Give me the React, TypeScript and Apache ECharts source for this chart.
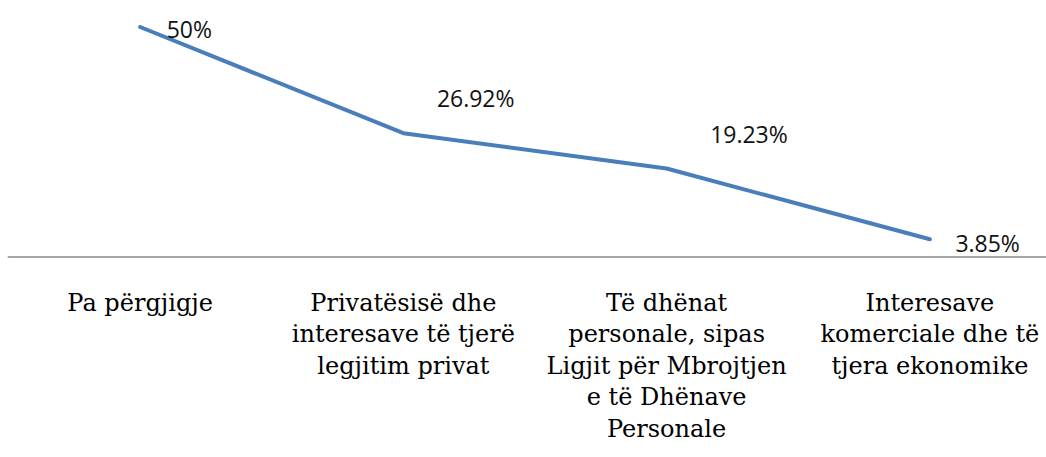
import React, { useEffect, useRef } from "react";
import * as echarts from "echarts";

const categories = [
  "Pa përgjigje",
  "Privatësisë dhe\ninteresave të tjerë\nlegjitim privat",
  "Të dhënat\npersonale, sipas\nLigjit për Mbrojtjen\ne të Dhënave\nPersonale",
  "Interesave\nkomerciale dhe të\ntjera ekonomike",
];
const values = [50, 26.92, 19.23, 3.85];
const labelTexts = ["50%", "26.92%", "19.23%", "3.85%"];

// label placement relative to each point (style only)
const labelOffsets: [number, number][] = [
  [27, 2],
  [34, -35],
  [44, -34],
  [26, 4],
];

export default function App() {
  const ref = useRef<HTMLDivElement>(null);
  useEffect(() => {
    if (!ref.current) return;
    const chart = echarts.init(ref.current, undefined, { renderer: "svg" });
    chart.setOption({
      animation: false,
      backgroundColor: "#ffffff",
      grid: {
        left: 8.5,
        top: 27,
        width: 1053,
        height: 230,
        containLabel: false,
        outerBoundsMode: "none",
      },
      xAxis: {
        type: "category",
        data: categories,
        boundaryGap: true,
        axisLine: { show: true, lineStyle: { color: "#a6a6a6", width: 2 } },
        axisTick: { show: false },
        axisLabel: {
          interval: 0,
          margin: 30,
          fontFamily: "DejaVu Serif",
          fontSize: 24,
          lineHeight: 31.5,
          color: "#000000",
          align: "center",
        },
        splitLine: { show: false },
      },
      yAxis: {
        type: "value",
        min: 0,
        max: 50,
        show: false,
        splitLine: { show: false },
      },
      series: [
        {
          type: "line",
          data: values.map((v, i) => ({
            value: v,
            label: {
              show: true,
              position: [labelOffsets[i][0], labelOffsets[i][1]],
              align: "left",
              verticalAlign: "middle",
              formatter: () => labelTexts[i],
            },
          })),
          symbol: "circle",
          symbolSize: 1,
          showSymbol: true,
          itemStyle: { color: "rgba(0,0,0,0)" },
          lineStyle: { color: "#4A7EBB", width: 4, cap: "round", join: "round" },
          label: {
            show: true,
            fontFamily: "Open Sans",
            fontSize: 23,
            color: "#111111",
          },
        },
      ],
    });
    return () => chart.dispose();
  }, []);
  return (
    <div
      ref={ref}
      style={{ position: "absolute", left: 0, top: 0, width: 1046, height: 457 }}
    />
  );
}
